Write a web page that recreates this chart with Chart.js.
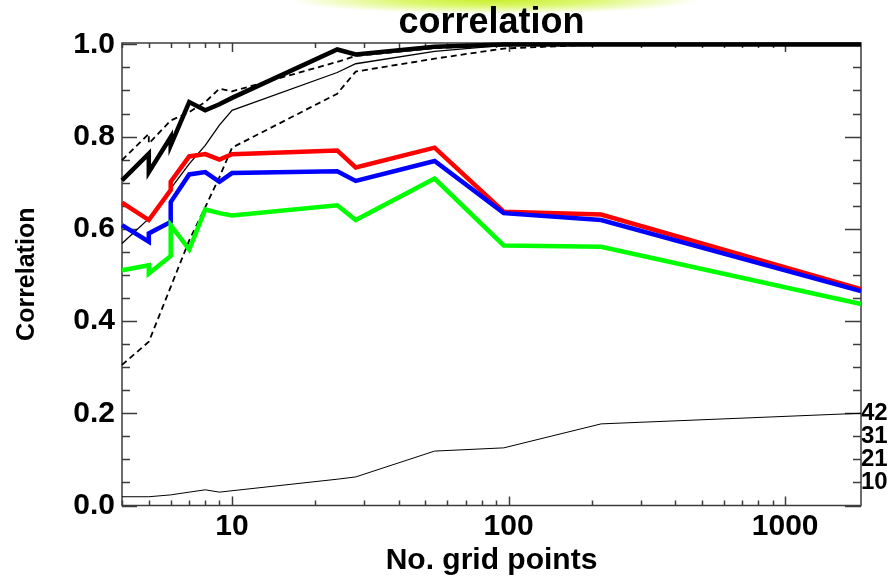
<!DOCTYPE html>
<html>
<head>
<meta charset="utf-8">
<script src="https://cdn.jsdelivr.net/npm/chart.js@4.4.1/dist/chart.umd.min.js"></script>
<style>
  html, body { margin: 0; padding: 0; background: #fff; }
  #wrap { position: relative; width: 892px; height: 577px; }
  #glow {
    position: absolute; left: 290px; top: 0; width: 410px; height: 14px;
    background: radial-gradient(ellipse 50% 100% at 50% 0%, #c8ef2c 0%, #dcf76e 45%, rgba(255,255,255,0) 100%);
  }
  canvas { position: absolute; left: 0; top: 0; }
</style>
</head>
<body>
<div id="wrap">
  <div id="glow"></div>
  <canvas id="chart" width="892" height="577"></canvas>
</div>
<script>
// Values (x = number of grid points, log scale).
const chartTitle = 'correlation';
const xTitle = 'No. grid points';
const yTitle = 'Correlation';

const xThick = [4, 5, 5, 6, 6, 7, 8, 9, 10, 24, 28, 54, 96, 216, 1880];
const yThick = [0.705, 0.763, 0.723, 0.799, 0.781, 0.875, 0.857, 0.870, 0.884, 0.989, 0.978, 0.995, 1.0, 1.0, 1.0];

const xThin = [4, 5, 6, 7, 8, 9, 10, 24, 28, 54, 96, 216, 1880];
const yThin = [0.568, 0.622, 0.687, 0.741, 0.781, 0.825, 0.857, 0.939, 0.958, 0.985, 0.998, 1.0, 1.0];

const xDashUp = [4, 5, 5, 6, 7, 8, 9, 10, 24, 28, 54, 96, 216, 1880];
const yDashUp = [0.749, 0.806, 0.785, 0.835, 0.853, 0.875, 0.904, 0.898, 0.962, 0.975, 0.992, 0.998, 1.0, 1.0];

const xDashLow = [4, 5, 6, 7, 8, 9, 10, 24, 28, 54, 96, 216, 1880];
const yDashLow = [0.305, 0.355, 0.474, 0.575, 0.647, 0.712, 0.776, 0.893, 0.941, 0.969, 0.991, 1.0, 1.0];

const xRed = [4, 5, 6, 6, 7, 8, 9, 10, 24, 28, 54, 96, 216, 1880];
const yRed = [0.657, 0.619, 0.684, 0.702, 0.757, 0.762, 0.750, 0.762, 0.770, 0.733, 0.776, 0.637, 0.631, 0.469];

const xBlue = [4, 5, 5, 6, 6, 7, 8, 9, 10, 24, 28, 54, 96, 216, 1880];
const yBlue = [0.608, 0.572, 0.590, 0.615, 0.658, 0.718, 0.723, 0.702, 0.721, 0.725, 0.704, 0.747, 0.634, 0.619, 0.465];

const xGreen = [4, 5, 5, 6, 6, 7, 8, 9, 10, 24, 28, 54, 96, 216, 1880];
const yGreen = [0.510, 0.521, 0.503, 0.541, 0.608, 0.555, 0.642, 0.634, 0.629, 0.651, 0.619, 0.709, 0.564, 0.561, 0.437];

const xBottom = [4, 5, 6, 7, 8, 9, 10, 24, 28, 54, 96, 216, 1880];
const yBottom = [0.019, 0.019, 0.023, 0.029, 0.034, 0.029, 0.032, 0.057, 0.062, 0.118, 0.125, 0.177, 0.200];

// Axis ticks
const xTickVals = [10, 100, 1000];
const yTickVals = [0, 0.2, 0.4, 0.6, 0.8, 1.0];
const rightTickVals = [0.05, 0.10, 0.15, 0.20];
const rightTickLabels = ['10', '21', '31', '42'];

function pts(xs, ys) {
  return xs.map((x, i) => ({ x: x, y: ys[i] }));
}

function line(xs, ys, color, width, dash) {
  return {
    data: pts(xs, ys),
    borderColor: color,
    borderWidth: width,
    borderDash: dash || [],
    pointRadius: 0,
    tension: 0,
    fill: false,
    clip: 8
  };
}

const FONT = "'Liberation Sans', Arial, Helvetica, sans-serif";

// inward ticks on all four sides plus the box, IDL style
const frameTicks = {
  id: 'frameTicks',
  beforeDatasetsDraw(chart) {
    const { ctx, chartArea: a, scales } = chart;
    const x = scales.x, y = scales.y;
    ctx.save();
    ctx.strokeStyle = '#3c3c3c';
    ctx.lineWidth = 1.5;
    ctx.strokeRect(a.left, a.top, a.right - a.left, a.bottom - a.top);
    ctx.beginPath();
    for (let i = 0; i <= 20; i++) {
      const py = Math.round(y.getPixelForValue(i * 0.05)) + 0.5;
      const major = i % 4 === 0;
      ctx.moveTo(a.left, py); ctx.lineTo(a.left + (major ? 15 : 8), py);
      ctx.moveTo(a.right, py); ctx.lineTo(a.right - (major ? 16 : 8), py);
    }
    for (let d = 1; d <= 1000; d *= 10) {
      for (let m = 1; m <= 9; m++) {
        const v = d * m;
        if (v < x.min || v > x.max) continue;
        const px = Math.round(x.getPixelForValue(v)) + 0.5;
        const len = m === 1 ? 9 : 5;
        ctx.moveTo(px, a.bottom); ctx.lineTo(px, a.bottom - len);
        ctx.moveTo(px, a.top); ctx.lineTo(px, a.top + len);
      }
    }
    ctx.stroke();
    ctx.restore();
  },
  afterDraw(chart) {
    const { ctx, chartArea: a } = chart;
    ctx.save();
    ctx.fillStyle = '#000';
    ctx.font = 'bold 36px ' + FONT;
    ctx.textAlign = 'center';
    ctx.textBaseline = 'middle';
    ctx.fillText(chartTitle, (a.left + a.right) / 2, 23);
    ctx.restore();
  }
};

const ctx = document.getElementById('chart').getContext('2d');
const chart = new Chart(ctx, {
  type: 'line',
  data: {
    datasets: [
      line(xGreen, yGreen, '#00ff00', 4.5),
      line(xBlue, yBlue, '#0000ff', 4.5),
      line(xRed, yRed, '#ff0000', 4.5),
      line(xThick, yThick, '#000000', 4.5),
      line(xThin, yThin, '#000000', 1.3),
      line(xDashUp, yDashUp, '#000000', 1.8, [6, 4]),
      line(xDashLow, yDashLow, '#000000', 1.8, [6, 4]),
      line(xBottom, yBottom, '#000000', 1)
    ]
  },
  options: {
    responsive: false,
    animation: false,
    devicePixelRatio: 1,
    layout: { padding: { top: 43, left: 0, right: 0, bottom: 0 } },
    plugins: {
      legend: { display: false },
      title: { display: false },
      tooltip: { enabled: false }
    },
    scales: {
      x: {
        type: 'logarithmic',
        position: 'bottom',
        min: 4,
        max: 1880,
        grid: { display: false, drawTicks: false },
        border: { display: false },
        afterBuildTicks: (s) => { s.ticks = xTickVals.map((v) => ({ value: v })); },
        afterFit: (s) => { s.height = 71.5; },
        ticks: {
          color: '#000',
          padding: 3,
          font: { family: FONT, size: 30, weight: 'bold', lineHeight: 1.2 },
          callback: (v) => String(v)
        },
        title: {
          display: true,
          text: xTitle,
          color: '#000',
          padding: { top: 4, bottom: 0 },
          font: { family: FONT, size: 30, weight: 'bold', lineHeight: 1.1 }
        }
      },
      y: {
        type: 'linear',
        position: 'left',
        min: 0,
        max: 1.003,
        grid: { display: false, drawTicks: false },
        border: { display: false },
        afterBuildTicks: (s) => { s.ticks = yTickVals.map((v) => ({ value: v })); },
        afterFit: (s) => { s.width = 122; },
        ticks: {
          color: '#000',
          padding: 7,
          font: { family: FONT, size: 30, weight: 'bold' },
          callback: (v) => v.toFixed(1)
        },
        title: {
          display: true,
          text: yTitle,
          color: '#000',
          padding: { top: 12, bottom: 0 },
          font: { family: FONT, size: 25, weight: 'bold', lineHeight: 1.2 }
        }
      },
      y2: {
        type: 'linear',
        position: 'right',
        min: 0,
        max: 1.003,
        grid: { display: false, drawTicks: false },
        border: { display: false },
        afterBuildTicks: (s) => { s.ticks = rightTickVals.map((v) => ({ value: v })); },
        afterFit: (s) => { s.width = 31; },
        ticks: {
          color: '#000',
          padding: 0,
          font: { family: FONT, size: 24, weight: 'bold' },
          callback: (v, i) => rightTickLabels[i]
        }
      }
    }
  },
  plugins: [frameTicks]
});
</script>
</body>
</html>
